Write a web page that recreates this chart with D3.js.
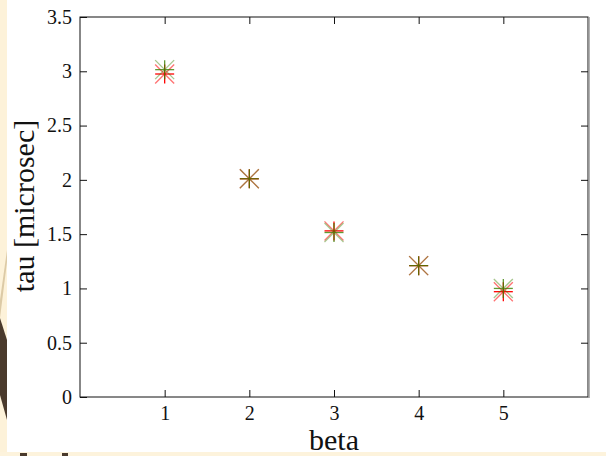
<!DOCTYPE html>
<html>
<head>
<meta charset="utf-8">
<script src="https://cdn.jsdelivr.net/npm/d3@7"></script>
<style>
  body { margin: 0; background: #fff; }
  svg { display: block; }
  text { font-family: "Liberation Serif", "Times New Roman", serif; fill: #111; }
</style>
</head>
<body>
<div id="chart"></div>
<script>
// data
var beta = [1, 2, 3, 4, 5];
var tauRed = [2.975, 2.01, 1.53, 1.21, 0.97];
var tauGreen = [3.015, 2.01, 1.515, 1.21, 1.0];
var xTicks = [1, 2, 3, 4, 5];
var yTicks = [0, 0.5, 1, 1.5, 2, 2.5, 3, 3.5];

var W = 606, H = 456;
var margin = {top: 17, right: 18, bottom: 59, left: 80},
    width = W - margin.left - margin.right,
    height = H - margin.top - margin.bottom;

var svg = d3.select("#chart").append("svg")
    .attr("width", W)
    .attr("height", H);

// slide decoration on the left / bottom
svg.append("rect").attr("x", 0).attr("y", 0).attr("width", 7).attr("height", H).attr("fill", "#fdf2d9");
svg.append("polygon").attr("points", "0,300 7,250 7,262 0,318").attr("fill", "#dccaa6");
svg.append("polygon").attr("points", "0,318 7,340 7,420 0,395").attr("fill", "#4a3a2c");
svg.append("rect").attr("x", 0).attr("y", 452).attr("width", W).attr("height", 4).attr("fill", "#fdf3dc");
svg.append("rect").attr("x", 20).attr("y", 453).attr("width", 7).attr("height", 3).attr("fill", "#4a3a2c");
svg.append("rect").attr("x", 62).attr("y", 453).attr("width", 6).attr("height", 3).attr("fill", "#4a3a2c");

var x = d3.scaleLinear().domain([0, 6]).range([0, width]);
var y = d3.scaleLinear().domain([0, 3.5]).range([height, 0]);

var g = svg.append("g")
    .attr("transform", "translate(" + margin.left + "," + margin.top + ")");

// axes with inward ticks, labels only on bottom/left
var tk = 7;
var xAx = g.append("g").attr("transform", "translate(0," + height + ")")
    .call(d3.axisBottom(x).tickValues(xTicks).tickSizeInner(-tk).tickSizeOuter(0).tickPadding(9).tickFormat(d3.format("d")));
g.append("g")
    .call(d3.axisTop(x).tickValues(xTicks).tickSizeInner(-tk).tickSizeOuter(0).tickFormat(""));
var yAx = g.append("g")
    .call(d3.axisLeft(y).tickValues(yTicks).tickSizeInner(-tk).tickSizeOuter(0).tickPadding(8).tickFormat(function(d) { return d; }));
g.append("g").attr("transform", "translate(" + width + ",0)")
    .call(d3.axisRight(y).tickValues(yTicks.slice(1, -1)).tickSizeInner(-tk).tickSizeOuter(0).tickFormat(""));

g.selectAll(".domain").remove();
g.selectAll(".tick line").attr("stroke", "#111");
xAx.attr("font-size", 20).attr("font-family", "Liberation Serif, serif");
yAx.attr("font-size", 20).attr("font-family", "Liberation Serif, serif");
g.selectAll(".tick text").attr("fill", "#111");

// frame
g.append("rect").attr("x", 0).attr("y", 0).attr("width", width).attr("height", height)
    .attr("fill", "none").attr("stroke", "#111").attr("stroke-width", 1);
g.append("line").attr("x1", width + 1).attr("x2", width + 1).attr("y1", 0).attr("y2", height + 1)
    .attr("stroke", "#999").attr("stroke-width", 1.5);

// star markers (+ and x)
function star(sel, color, op) {
    var r = 9.5;
    sel.append("line").attr("x1", -r).attr("x2", r).attr("y1", r).attr("y2", -r).attr("opacity", 0.55);
    sel.append("line").attr("x1", -r).attr("x2", r).attr("y1", -r).attr("y2", r).attr("opacity", 0.55);
    sel.append("line").attr("x1", -r).attr("x2", r).attr("y1", 0).attr("y2", 0);
    sel.append("line").attr("x1", 0).attr("x2", 0).attr("y1", -r).attr("y2", r);
    sel.selectAll("line").attr("stroke", color).attr("stroke-width", 1.3);
    sel.attr("opacity", op);
}

g.append("g").selectAll("g").data(beta).enter().append("g")
    .attr("transform", function(d, i) { return "translate(" + x(d) + "," + y(tauRed[i]) + ")"; })
    .call(star, "#ff0000", 1);
g.append("g").selectAll("g").data(beta).enter().append("g")
    .attr("transform", function(d, i) { return "translate(" + x(d) + "," + y(tauGreen[i]) + ")"; })
    .call(star, "#3a8000", 0.8);

// axis titles
svg.append("text")
    .attr("x", margin.left + x(3)).attr("y", 450)
    .attr("font-size", 30)
    .attr("text-anchor", "middle")
    .text("beta");
svg.append("text")
    .attr("transform", "translate(34," + (margin.top + height / 2 - 1) + ") rotate(-90)")
    .attr("text-anchor", "middle")
    .attr("font-size", 30)
    .text("tau [microsec]");
</script>
</body>
</html>
